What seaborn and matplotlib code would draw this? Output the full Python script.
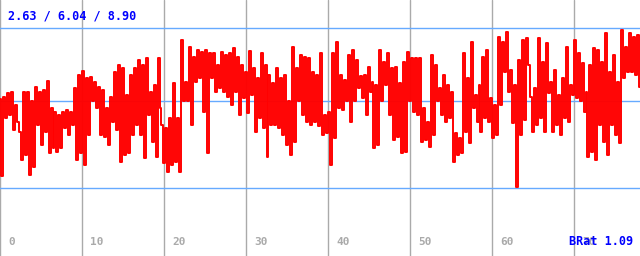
import numpy as np
import pandas as pd
import matplotlib
matplotlib.use("Agg")
import matplotlib.pyplot as plt
import seaborn as sns

# Series values (alternating local high / low per ~4 px column)
strip1 = [6.10, 3.10, 6.21, 5.36, 6.34, 5.49, 6.41, 4.90, 5.88, 5.23, 4.84, 3.73,
          6.41, 3.93, 6.41, 3.14, 6.02, 3.47, 6.60, 5.10, 6.41, 4.32, 6.47, 4.84,
          6.82, 3.99, 5.75, 4.19, 5.62, 4.06, 5.49, 4.19, 5.62, 4.97, 5.69, 4.71,
          5.62, 5.10, 6.54, 3.73, 7.06, 3.99, 7.22, 3.53, 6.93, 4.71, 6.99, 6.02,
          6.80, 5.75, 6.60, 4.71, 6.47, 4.64]
strip2 = [5.75, 4.32, 6.21, 5.23, 7.19, 4.90, 7.45, 3.66, 7.32, 3.93, 6.28, 3.99,
          7.06, 4.71, 7.32, 5.10, 7.65, 4.71, 7.45, 3.79, 7.71, 5.49, 6.41, 4.45,
          6.67, 3.86, 7.71, 5.75, 5.10, 3.60, 4.97, 3.27, 5.36, 3.53, 6.73, 3.66,
          5.36, 3.27, 8.43, 6.02, 6.80, 6.02, 8.17, 5.10, 7.78, 6.80, 8.04, 6.93,
          7.97, 5.62, 8.04, 3.99, 7.91, 6.93]
strip3 = [7.91, 6.41, 7.45, 6.54, 7.97, 6.41, 7.84, 6.21, 7.91, 5.88, 8.10, 6.41,
          7.78, 5.49, 7.45, 6.15, 7.19, 5.56, 8.00, 6.28, 7.32, 4.84, 6.93, 5.36,
          7.91, 4.97, 7.45, 3.86, 7.06, 5.10, 6.73, 5.10, 7.32, 4.97, 6.93, 4.71,
          7.06, 4.32, 6.02, 3.93, 8.17, 4.45, 7.32, 6.02, 7.84, 5.49, 7.78, 5.23,
          7.71, 5.10, 7.19, 5.23, 7.06, 5.04]
strip4 = [7.91, 4.71, 5.49, 4.77, 5.62, 3.53, 7.91, 4.58, 8.37, 5.75, 7.06, 5.69,
          6.86, 6.02, 7.84, 5.23, 8.04, 6.02, 7.65, 6.54, 7.00, 6.15, 7.06, 5.49,
          7.39, 6.41, 6.80, 4.19, 6.67, 4.32, 8.04, 6.02, 7.58, 6.67, 7.91, 5.49,
          7.32, 4.51, 7.39, 4.64, 6.73, 3.99, 7.58, 4.06, 7.97, 6.02, 7.71, 5.62,
          7.71, 5.49, 7.71, 4.45, 5.75, 4.51]
strip5 = [5.23, 4.25, 7.84, 4.71, 7.45, 6.02, 6.54, 5.49, 7.06, 5.23, 6.67, 5.36,
          6.41, 3.66, 4.77, 3.93, 4.58, 3.99, 7.91, 4.84, 6.93, 4.38, 8.37, 5.75,
          6.28, 5.23, 6.67, 4.84, 7.78, 5.36, 8.04, 5.23, 6.15, 4.58, 5.88, 4.71,
          8.56, 5.88, 8.37, 7.19, 8.76, 6.41, 7.26, 5.17, 6.67, 2.65, 7.65, 4.71,
          8.43, 5.30, 8.50, 7.45, 6.21, 4.84]
strip6 = [6.54, 5.10, 8.50, 5.36, 7.58, 4.84, 8.30, 6.34, 6.80, 4.84, 7.26, 5.10,
          6.28, 4.71, 6.93, 5.36, 8.17, 5.23, 6.67, 6.28, 8.43, 6.15, 7.91, 6.02,
          7.52, 5.62, 6.41, 3.86, 7.45, 4.06, 8.10, 3.73, 8.04, 5.10, 7.58, 4.45,
          8.69, 3.93, 7.19, 5.10, 7.84, 4.71, 6.80, 4.38, 8.82, 6.93, 8.17, 7.19,
          8.69, 7.19, 8.56, 7.06, 8.63, 6.60]

values = strip1 + strip2 + strip3 + strip4 + strip5 + strip6
x_end = 78.05
tick_values = [0, 10, 20, 30, 40, 50, 60, 70]
tick_labels = ["0", "10", "20", "30", "40", "50", "60", "70"]
ref_levels = [2.63, 6.04, 8.90]   # min / mean / max
stats_text = "2.63 / 6.04 / 8.90"
corner_text = "BRat 1.09"

df = pd.DataFrame({"x": np.linspace(0, x_end, len(values)), "y": values})

sns.set_style("white")
fig = plt.figure(figsize=(6.4, 2.56), dpi=100)
ax = fig.add_axes([0, 0, 1, 1])
ax.set_xlim(0, x_end)
ax.set_ylim(-0.035, 9.997)
for s in ax.spines.values():
    s.set_visible(False)
ax.set_xticks([])
ax.set_yticks([])

for t in tick_values:
    ax.axvline(t, color="#aaaaaa", linewidth=1.0, zorder=1)
for lv in ref_levels:
    ax.axhline(lv, color="#66aaff", linewidth=1.0, zorder=1)

sns.lineplot(data=df, x="x", y="y", ax=ax, color="#ff0000", linewidth=1.4,
             estimator=None, sort=False, zorder=2, drawstyle="steps-mid")
ax.set_xlabel("")
ax.set_ylabel("")

mono = "DejaVu Sans Mono"
for t, lab in zip(tick_values, tick_labels):
    ax.text(t + 1.0, 0.38, lab, color="#aaaaaa", fontsize=8, family=mono,
            fontweight="bold", ha="left", va="baseline", zorder=3)
fig.text(8 / 640, 1 - 19.5 / 256, stats_text, color="#0000ff", fontsize=8.5,
         family=mono, fontweight="bold", ha="left", va="baseline")
fig.text(633 / 640, 1 - 245 / 256, corner_text, color="#0000ff", fontsize=8.5,
         family=mono, fontweight="bold", ha="right", va="baseline", zorder=4)

fig.savefig("out.png", dpi=100, facecolor="white")
